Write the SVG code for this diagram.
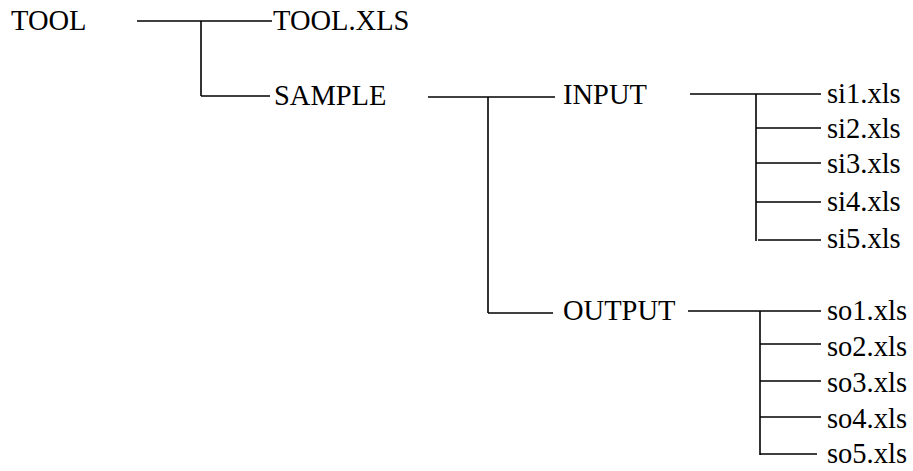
<svg xmlns="http://www.w3.org/2000/svg" width="913" height="471" viewBox="0 0 913 471">
<style>
text{font-family:'Liberation Serif','Times New Roman',Times,serif;font-size:28.5px;fill:#000}
.c line{stroke:#000;stroke-width:1.6;fill:none}
</style>
<rect width="913" height="471" fill="#fff"/>
<g class="c" id="connectors">
<line x1="137" y1="21" x2="272" y2="21"/>
<line x1="201" y1="21" x2="201" y2="96"/>
<line x1="201" y1="96" x2="270" y2="96"/>
<line x1="428" y1="97" x2="555" y2="97"/>
<line x1="488" y1="97" x2="488" y2="313"/>
<line x1="488" y1="313" x2="553" y2="313"/>
<line x1="690" y1="94" x2="821" y2="94"/>
<line x1="756" y1="94" x2="756" y2="241"/>
<line x1="756" y1="128" x2="821" y2="128"/>
<line x1="756" y1="163" x2="821" y2="163"/>
<line x1="756" y1="202" x2="821" y2="202"/>
<line x1="758" y1="240" x2="821" y2="240"/>
<line x1="688" y1="311" x2="821" y2="311"/>
<line x1="760" y1="311" x2="760" y2="455"/>
<line x1="760" y1="344" x2="821" y2="344"/>
<line x1="760" y1="381" x2="821" y2="381"/>
<line x1="760" y1="417" x2="821" y2="417"/>
<line x1="760" y1="454" x2="817" y2="454"/>
</g>
<g id="n-tool"><text x="11" y="30">TOOL</text></g>
<g id="n-toolxls"><text x="273" y="30">TOOL.XLS</text></g>
<g id="n-sample"><text x="274" y="105">SAMPLE</text></g>
<g id="n-input"><text x="563" y="104">INPUT</text></g>
<g id="n-output"><text x="563" y="320">OUTPUT</text></g>
<g id="n-si1"><text x="827" y="103">si1.xls</text></g>
<g id="n-si2"><text x="827" y="138">si2.xls</text></g>
<g id="n-si3"><text x="827" y="173">si3.xls</text></g>
<g id="n-si4"><text x="827" y="211">si4.xls</text></g>
<g id="n-si5"><text x="827" y="248">si5.xls</text></g>
<g id="n-so1"><text x="827" y="320">so1.xls</text></g>
<g id="n-so2"><text x="827" y="356">so2.xls</text></g>
<g id="n-so3"><text x="827" y="392">so3.xls</text></g>
<g id="n-so4"><text x="827" y="428">so4.xls</text></g>
<g id="n-so5"><text x="827" y="463">so5.xls</text></g>
</svg>
